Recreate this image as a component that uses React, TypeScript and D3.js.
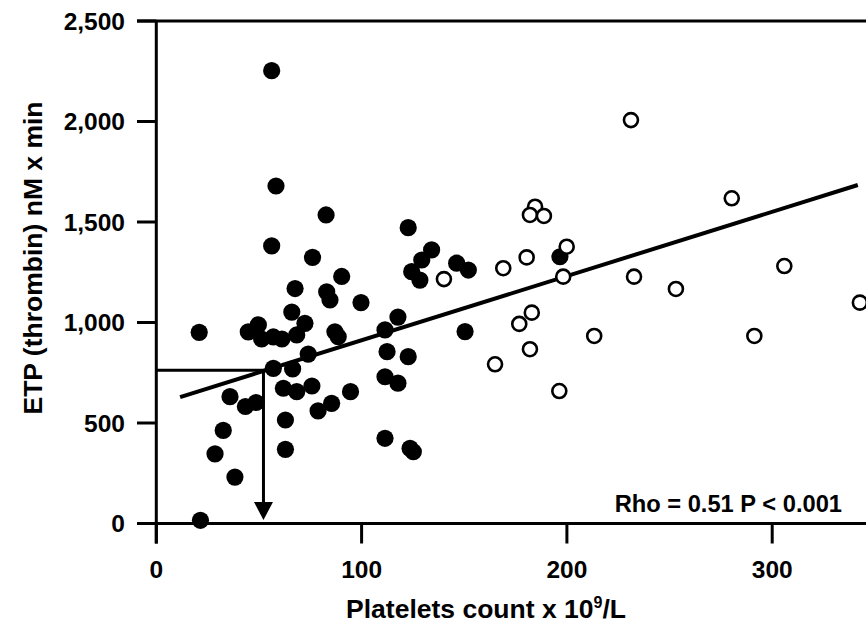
import React from "react";
import * as d3 from "d3";

// Filled circles: [platelets, ETP]
const filledX = [56.2, 58.3, 56.2, 76.1, 82.7, 67.6, 90.3, 83.0, 84.6, 99.7, 20.9, 66.0, 72.4, 49.7, 44.8, 51.3, 57.0, 61.2, 68.4, 87.0, 88.6, 111.4, 117.7, 122.7, 134.1, 129.3, 124.4, 128.4, 146.3, 152.0, 150.4, 196.6, 74.0, 57.0, 66.4, 112.4, 122.7, 111.4, 117.7, 35.9, 43.4, 48.6, 61.9, 68.4, 75.8, 78.8, 85.4, 94.6, 62.9, 62.9, 32.6, 28.6, 38.3, 21.5, 111.4, 123.6, 125.2];
const filledY = [2253, 1679, 1381, 1324, 1535, 1169, 1229, 1152, 1112, 1099, 951, 1052, 996, 988, 953, 918, 928, 918, 938, 954, 929, 963, 1027, 1472, 1361, 1311, 1253, 1211, 1295, 1261, 955, 1327, 843, 772, 769, 855, 830, 730, 698, 631, 582, 602, 673, 656, 684, 560, 598, 656, 515, 369, 463, 346, 231, 16, 424, 374, 357];

// Open circles
const openX = [231.2, 280.3, 184.5, 182.0, 188.8, 199.9, 180.4, 169.0, 140.1, 198.2, 232.7, 305.9, 253.1, 342.7, 182.9, 176.8, 213.3, 291.3, 182.0, 165.0, 196.3];
const openY = [2007, 1618, 1576, 1535, 1530, 1377, 1324, 1270, 1216, 1228, 1228, 1281, 1167, 1099, 1049, 993, 933, 933, 867, 792, 659];

const regX = [11.6, 341.7];
const regY = [629, 1684];

const refX = 52.2;
const refY = 762;

const xTicks = [0, 100, 200, 300];
const yTicks = [0, 500, 1000, 1500, 2000, 2500];

const xTitle = "Platelets count x 10";
const yTitle = "ETP (thrombin) nM x min";
const statText = "Rho = 0.51 P < 0.001";

export default function App() {
  const W = 866, H = 625;
  const x = d3.scaleLinear().domain([0, 350]).range([156.3, 156.3 + 350 * 2.053]);
  const y = d3.scaleLinear().domain([0, 2500]).range([523.5, 21]);
  const font = "'Liberation Sans', Arial, sans-serif";
  const x0 = x(0), y0 = y(0), yTop = y(2500);
  const xRight = x(350);
  const line = d3.line<[number, number]>().x(d => x(d[0])).y(d => y(d[1]));
  const regPts: [number, number][] = regX.map((v, i) => [v, regY[i]]);
  const ax = x(refX), ay = y(refY);

  return (
    <svg width={W} height={H} style={{ position: "absolute", left: 0, top: 0, background: "#fff" }}>
      <rect x={0} y={0} width={W} height={H} fill="#fff" />
      {/* frame / axes */}
      <g stroke="#000" strokeWidth={3} fill="none">
        <line x1={137} x2={xRight} y1={yTop} y2={yTop} />
        <line x1={x0} x2={x0} y1={yTop} y2={y0 + 20} />
        <line x1={137} x2={xRight} y1={y0} y2={y0} />
        {yTicks.map(t => (
          <line key={"yt" + t} x1={137} x2={x0} y1={y(t)} y2={y(t)} />
        ))}
        {xTicks.map(t => (
          <line key={"xt" + t} x1={x(t)} x2={x(t)} y1={y0} y2={y0 + 20} />
        ))}
      </g>
      <g fontFamily={font} fontWeight="bold" fontSize={24.5} fill="#000">
        {yTicks.map(t => (
          <text key={"yl" + t} x={125} y={y(t)} dy="0.36em" textAnchor="end">
            {d3.format(",")(t)}
          </text>
        ))}
        {xTicks.map(t => (
          <text key={"xl" + t} x={x(t)} y={578} textAnchor="middle">
            {t}
          </text>
        ))}
      </g>
      <text x={486} y={618} textAnchor="middle" fontFamily={font} fontWeight="bold" fontSize={26.5}>
        {xTitle}
        <tspan fontSize={16} dy={-10}>9</tspan>
        <tspan dy={10}>/L</tspan>
      </text>
      <text
        transform={`translate(42,258) rotate(-90)`}
        textAnchor="middle"
        fontFamily={font}
        fontWeight="bold"
        fontSize={26.5}
      >
        {yTitle}
      </text>
      <text x={842} y={512} textAnchor="end" fontFamily={font} fontWeight="bold" fontSize={23.7}>
        {statText}
      </text>

      {/* reference lines */}
      <g stroke="#000" strokeWidth={3} fill="none">
        <line x1={x0} x2={ax + 1.5} y1={ay} y2={ay} />
        <line x1={ax} x2={ax} y1={ay} y2={505} />
      </g>
      <polygon points={`${ax - 9.5},502 ${ax + 9.5},502 ${ax},520`} fill="#000" />

      {/* filled points */}
      <g fill="#000">
        {filledX.map((v, i) => (
          <circle key={"f" + i} cx={x(v)} cy={y(filledY[i])} r={8.6} />
        ))}
      </g>
      {/* regression */}
      <path d={line(regPts) || ""} stroke="#000" strokeWidth={4} fill="none" />
      {/* open points */}
      <g fill="#fff" stroke="#000" strokeWidth={2.6}>
        {openX.map((v, i) => (
          <circle key={"o" + i} cx={x(v)} cy={y(openY[i])} r={7} />
        ))}
      </g>
    </svg>
  );
}
